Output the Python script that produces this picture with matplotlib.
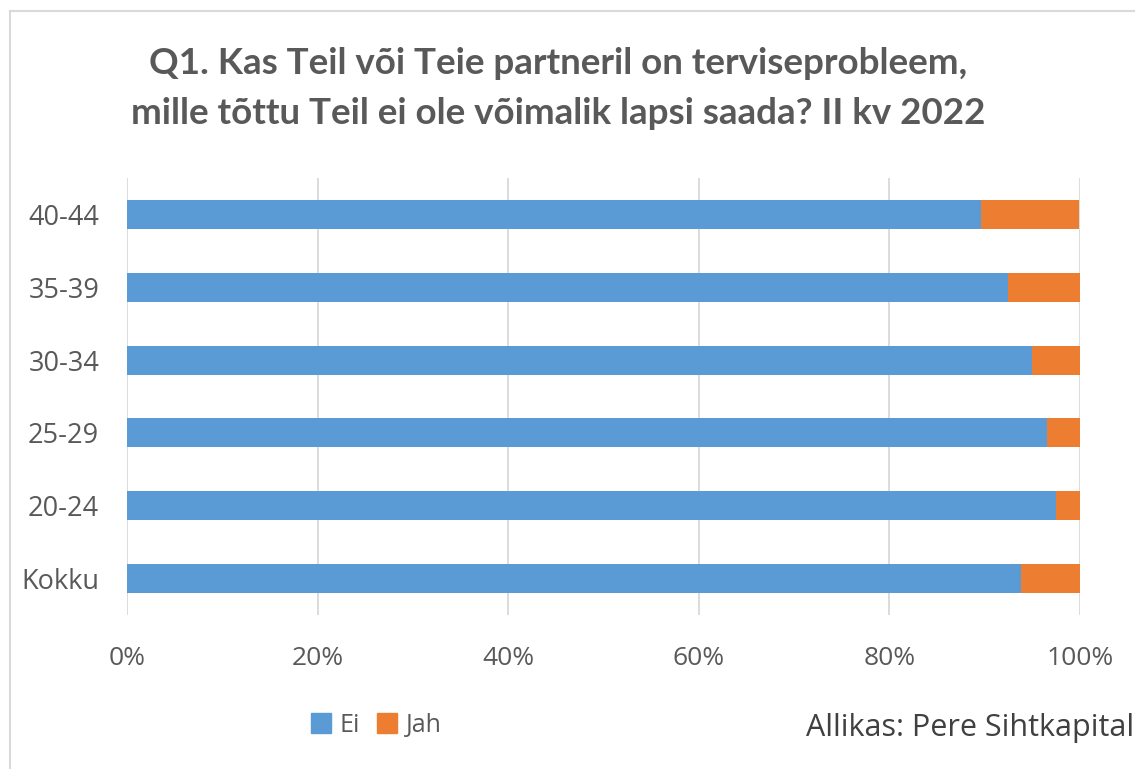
import numpy as np
import matplotlib.pyplot as plt
from matplotlib.patches import Patch

# data (share of respondents, %)
groups = ["Kokku", "20-24", "25-29", "30-34", "35-39", "40-44"]
ei = [93.8, 97.5, 96.5, 95.0, 92.5, 89.6]
jah = [6.2, 2.5, 3.5, 5.0, 7.5, 10.3]
series = ["Ei", "Jah"]
colors = ["#5B9BD5", "#ED7D31"]

title = "Q1. Kas Teil või Teie partneril on terviseprobleem,\nmille tõttu Teil ei ole võimalik lapsi saada? II kv 2022"
grey = "#595959"

fig = plt.figure(figsize=(11.35, 7.69), dpi=100)
ax = fig.add_axes([0.1119, 0.2003, 0.8396, 0.5682])

y = np.arange(len(groups))
ax.barh(y, ei, height=0.4, color=colors[0], zorder=3)
ax.barh(y, jah, left=ei, height=0.4, color=colors[1], zorder=3)

ax.set_xlim(0, 100)
ax.set_ylim(-0.5, len(groups) - 0.5)
ax.set_yticks(y)
ax.set_yticklabels(groups, fontsize=19.5, color=grey, family="Open Sans")
ax.set_xticks(np.arange(0, 101, 20))
ax.set_xticklabels([f"{v}%" for v in range(0, 101, 20)], fontsize=19, color=grey, family="Open Sans")
ax.tick_params(length=0)
ax.tick_params(axis="y", pad=20)
ax.tick_params(axis="x", pad=22)
ax.grid(axis="x", color="#D9D9D9", linewidth=1.3, zorder=0)
for s in ax.spines.values():
    s.set_visible(False)

fig.text(0.492, 0.885, title, ha="center", va="center", fontsize=26.5, fontweight="bold",
         color=grey, family="Lato", linespacing=1.6)

handles = [Patch(color=c, label=l) for c, l in zip(colors, series)]
fig.legend(handles=handles, loc="center left", bbox_to_anchor=(0.254, 0.057), ncol=2, frameon=False,
           handlelength=0.8, handleheight=0.8, handletextpad=0.35, columnspacing=0.7,
           prop={"family": "Open Sans", "size": 18}, labelcolor=grey)

fig.text(0.9995, 0.053, "Allikas: Pere Sihtkapital", ha="right", va="center", fontsize=22,
         color="#404040", family="Open Sans")

# outer chart border
fig.add_artist(plt.Line2D([0.009, 0.009], [0.0, 0.986], color="#D9D9D9", lw=1.5))
fig.add_artist(plt.Line2D([0.009, 1.0], [0.986, 0.986], color="#D9D9D9", lw=1.5))

fig.savefig("out.png", dpi=100)
